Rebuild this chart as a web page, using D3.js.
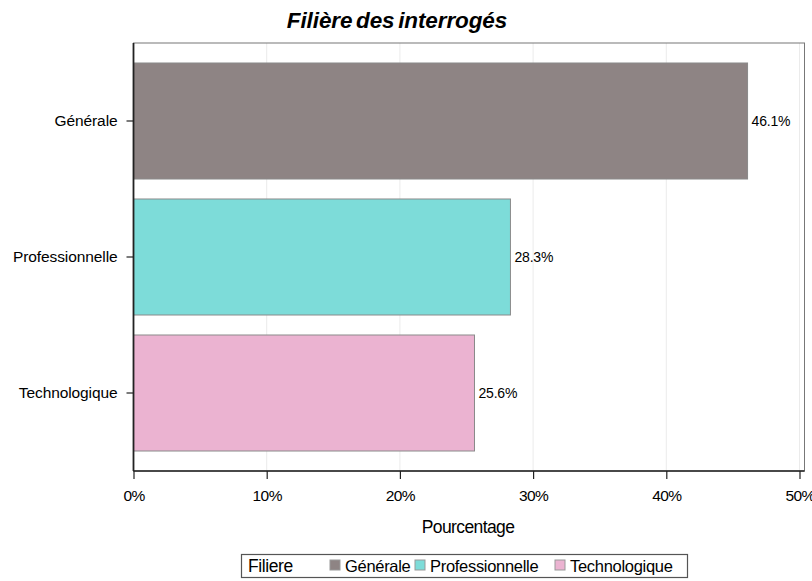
<!DOCTYPE html>
<html>
<head>
<meta charset="utf-8">
<script src="https://cdn.jsdelivr.net/npm/d3@7"></script>
<style>
  body { margin: 0; background: #fff; }
  svg { font-family: "Liberation Sans", Arial, sans-serif; }
</style>
</head>
<body>
<svg id="chart" width="812" height="581"></svg>
<script>
// data
var categories = ["Générale", "Professionnelle", "Technologique"];
var percents = [46.1, 28.3, 25.6];
var xTicks = [0, 10, 20, 30, 40, 50];
var colors = ["#8e8484", "#7ddcd9", "#ebb3d1"];

var margin = {top: 43, right: 7.5, bottom: 110, left: 133.5},
    width = 812 - margin.left - margin.right,
    height = 581 - margin.top - margin.bottom;

var svg = d3.select("#chart");
var g = svg.append("g")
    .attr("transform", "translate(" + margin.left + "," + margin.top + ")");

var x = d3.scaleLinear().domain([0, 50]).range([0, 666]);
var y = d3.scaleBand().domain(categories).range([0, height])
    .paddingInner(0.147).paddingOuter(0.147);
var color = d3.scaleOrdinal().domain(categories).range(colors);

// grid
g.selectAll("line.grid").data(xTicks.slice(1)).enter().append("line")
    .attr("class", "grid")
    .attr("x1", function (d) { return x(d); })
    .attr("x2", function (d) { return x(d); })
    .attr("y1", 0).attr("y2", height)
    .attr("stroke", "#ebebeb").attr("stroke-width", 1);

// frame
g.append("rect")
    .attr("x", 0).attr("y", 0)
    .attr("width", width).attr("height", height)
    .attr("fill", "none").attr("stroke", "#777").attr("stroke-width", 1);

// bars
g.selectAll("rect.bar").data(categories).enter().append("rect")
    .attr("class", "bar")
    .attr("x", 0)
    .attr("y", function (d) { return y(d); })
    .attr("width", function (d, i) { return x(percents[i]); })
    .attr("height", y.bandwidth())
    .attr("fill", function (d) { return color(d); })
    .attr("stroke", "#8a8a8a").attr("stroke-width", 1);

// value labels
g.selectAll("text.val").data(categories).enter().append("text")
    .attr("class", "val")
    .attr("x", function (d, i) { return x(percents[i]) + 4; })
    .attr("y", function (d) { return y(d) + y.bandwidth() / 2; })
    .attr("dy", "0.35em")
    .attr("font-size", 14).attr("letter-spacing", "-0.2px")
    .text(function (d, i) { return percents[i].toFixed(1) + "%"; });

// axes
var xAxis = d3.axisBottom(x).tickValues(xTicks)
    .tickFormat(function (d) { return d + "%"; })
    .tickSize(8).tickPadding(11);
var gx = g.append("g").attr("transform", "translate(0," + height + ")").call(xAxis);
gx.select(".domain").attr("d", "M0,0H" + width).attr("stroke", "#222").attr("stroke-width", 1.5);
gx.selectAll(".tick line").attr("stroke", "#222").attr("stroke-width", 1.2);
gx.selectAll(".tick text").attr("font-size", 15.5).attr("letter-spacing", "-0.6px")
    .attr("fill", "#000");

var yAxis = d3.axisLeft(y).tickSize(7).tickPadding(9);
var gy = g.append("g").call(yAxis);
gy.select(".domain").attr("d", "M0,0V" + height).attr("stroke", "#222").attr("stroke-width", 1.8);
gy.selectAll(".tick line").attr("stroke", "#222").attr("stroke-width", 1.2);
gy.selectAll(".tick text").attr("font-size", 15.5).attr("letter-spacing", "-0.1px")
    .attr("fill", "#000");

// title
svg.append("text")
    .attr("x", 397).attr("y", 28)
    .attr("text-anchor", "middle")
    .attr("font-size", 22.5).attr("font-weight", "bold").attr("font-style", "italic")
    .attr("letter-spacing", "-0.1px").attr("word-spacing", "-2.5px")
    .text("Filière des interrogés");

// x title
svg.append("text")
    .attr("x", 468).attr("y", 533)
    .attr("text-anchor", "middle")
    .attr("font-size", 17.5).attr("letter-spacing", "-0.6px")
    .text("Pourcentage");

// legend
var legend = svg.append("g");
legend.append("rect")
    .attr("x", 241.5).attr("y", 554.5).attr("width", 446).attr("height", 23)
    .attr("fill", "#fff").attr("stroke", "#555").attr("stroke-width", 1.2);
legend.append("text")
    .attr("x", 248).attr("y", 572)
    .attr("font-size", 17.5).attr("letter-spacing", "-0.4px")
    .text("Filiere");
var legendX = [330, 415, 555];
var items = legend.selectAll("g.item").data(categories).enter().append("g")
    .attr("class", "item")
    .attr("transform", function (d, i) { return "translate(" + legendX[i] + ",0)"; });
items.append("rect")
    .attr("x", 0).attr("y", 560).attr("width", 10).attr("height", 10)
    .attr("fill", function (d) { return color(d); })
    .attr("stroke", "#999").attr("stroke-width", 1);
items.append("text")
    .attr("x", 15).attr("y", 572)
    .attr("font-size", 16.5).attr("letter-spacing", "-0.3px")
    .text(function (d) { return d; });
</script>
</body>
</html>
